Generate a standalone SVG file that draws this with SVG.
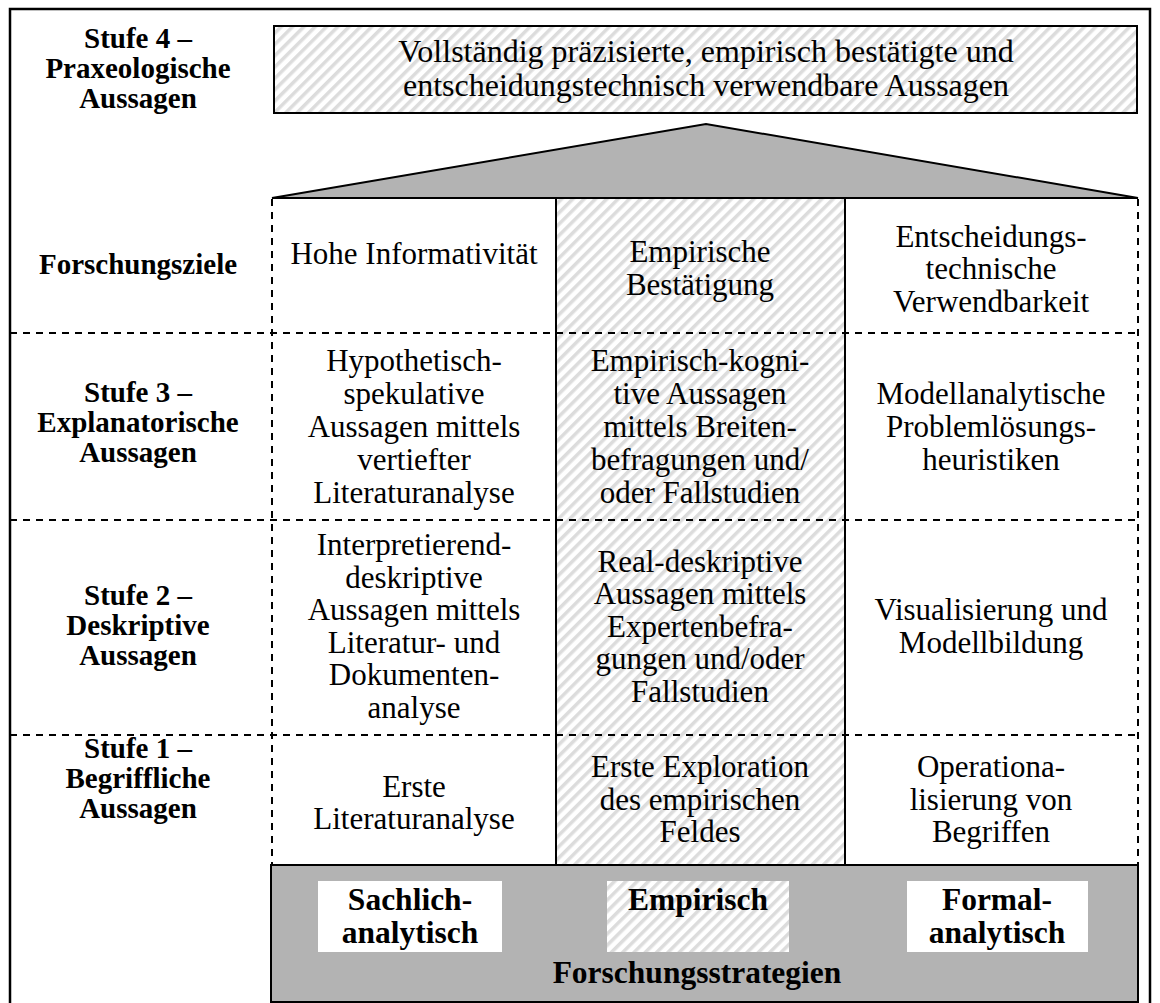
<svg xmlns="http://www.w3.org/2000/svg" width="1160" height="1003" viewBox="0 0 1160 1003">
  <defs>
    <pattern id="hatch" patternUnits="userSpaceOnUse" width="8" height="8" patternTransform="rotate(45)">
      <rect width="8" height="8" fill="#ffffff"/>
      <rect width="3.5" height="8" fill="#dcdcdc"/>
    </pattern>
    <style>
      .frame { fill: none; stroke: #000; stroke-width: 2.5; }
      .box { stroke: #000; stroke-width: 2; }
      .gray { fill: #b3b3b3; }
      .dash { stroke: #000; stroke-width: 2; stroke-dasharray: 7 6; fill: none; }
      .solid { stroke: #000; stroke-width: 2; fill: none; }
      text { font-family: "Liberation Serif", "Times New Roman", serif; fill: #000; text-anchor: middle; }
      .lbl { font-weight: bold; font-size: 29px; }
      .cell { font-size: 31px; }
      .head { font-size: 32px; }
      .strat { font-weight: bold; font-size: 31.5px; }
    </style>
  </defs>

  <rect width="1160" height="1003" fill="#ffffff"/>

  <!-- outer frame -->
  <rect class="frame" x="10" y="9" width="1140" height="1000"/>

  <!-- level 4 statement box and roof -->
  <g id="top-statement">
    <rect class="box" x="274" y="26" width="863" height="87" fill="url(#hatch)"/>
    <text class="head"><tspan x="706" y="62">Vollständig präzisierte, empirisch bestätigte und</tspan><tspan x="706" y="96">entscheidungstechnisch verwendbare Aussagen</tspan></text>
  </g>
  <g id="roof">
    <polygon class="box gray" points="272,198 706,124 1138,198"/>
  </g>

  <!-- middle column (empirical strategy) background -->
  <rect x="556" y="199" width="289" height="666" fill="url(#hatch)"/>

  <!-- grid lines -->
  <g id="grid">
    <line class="dash" x1="272" y1="199" x2="272" y2="865"/>
    <line class="dash" x1="1138" y1="199" x2="1138" y2="865"/>
    <line class="dash" x1="10" y1="333" x2="1138" y2="333"/>
    <line class="dash" x1="10" y1="520" x2="1138" y2="520"/>
    <line class="dash" x1="10" y1="735" x2="1138" y2="735"/>
    <line class="solid" x1="556" y1="199" x2="556" y2="865"/>
    <line class="solid" x1="845" y1="199" x2="845" y2="865"/>
  </g>

  <!-- row labels -->
  <g id="label-stufe4">
    <text class="lbl"><tspan x="138" y="48">Stufe 4 –</tspan><tspan x="138" y="78">Praxeologische</tspan><tspan x="138" y="108">Aussagen</tspan></text>
  </g>
  <g id="label-ziele">
    <text class="lbl" x="138" y="274">Forschungsziele</text>
  </g>
  <g id="label-stufe3">
    <text class="lbl"><tspan x="138" y="402">Stufe 3 –</tspan><tspan x="138" y="432">Explanatorische</tspan><tspan x="138" y="462">Aussagen</tspan></text>
  </g>
  <g id="label-stufe2">
    <text class="lbl"><tspan x="138" y="605">Stufe 2 –</tspan><tspan x="138" y="635">Deskriptive</tspan><tspan x="138" y="665">Aussagen</tspan></text>
  </g>
  <g id="label-stufe1">
    <text class="lbl"><tspan x="138" y="758">Stufe 1 –</tspan><tspan x="138" y="788">Begriffliche</tspan><tspan x="138" y="818">Aussagen</tspan></text>
  </g>

  <!-- research goals row -->
  <g id="ziel-informativitaet">
    <text class="cell" x="414" y="264">Hohe Informativität</text>
  </g>
  <g id="ziel-bestaetigung">
    <text class="cell"><tspan x="700" y="262">Empirische</tspan><tspan x="700" y="295">Bestätigung</tspan></text>
  </g>
  <g id="ziel-verwendbarkeit">
    <text class="cell"><tspan x="991" y="247">Entscheidungs-</tspan><tspan x="991" y="279">technische</tspan><tspan x="991" y="312">Verwendbarkeit</tspan></text>
  </g>

  <!-- level 3 row -->
  <g id="s3-sachlich">
    <text class="cell"><tspan x="414" y="371">Hypothetisch-</tspan><tspan x="414" y="404">spekulative</tspan><tspan x="414" y="437">Aussagen mittels</tspan><tspan x="414" y="470">vertiefter</tspan><tspan x="414" y="503">Literaturanalyse</tspan></text>
  </g>
  <g id="s3-empirisch">
    <text class="cell"><tspan x="700" y="371">Empirisch-kogni-</tspan><tspan x="700" y="404">tive Aussagen</tspan><tspan x="700" y="437">mittels Breiten-</tspan><tspan x="700" y="470">befragungen und/</tspan><tspan x="700" y="503">oder Fallstudien</tspan></text>
  </g>
  <g id="s3-formal">
    <text class="cell"><tspan x="991" y="404">Modellanalytische</tspan><tspan x="991" y="437">Problemlösungs-</tspan><tspan x="991" y="470">heuristiken</tspan></text>
  </g>

  <!-- level 2 row -->
  <g id="s2-sachlich">
    <text class="cell"><tspan x="414" y="555">Interpretierend-</tspan><tspan x="414" y="588">deskriptive</tspan><tspan x="414" y="620">Aussagen mittels</tspan><tspan x="414" y="653">Literatur- und</tspan><tspan x="414" y="685">Dokumenten-</tspan><tspan x="414" y="718">analyse</tspan></text>
  </g>
  <g id="s2-empirisch">
    <text class="cell"><tspan x="700" y="572">Real-deskriptive</tspan><tspan x="700" y="604">Aussagen mittels</tspan><tspan x="700" y="637">Expertenbefra-</tspan><tspan x="700" y="669">gungen und/oder</tspan><tspan x="700" y="702">Fallstudien</tspan></text>
  </g>
  <g id="s2-formal">
    <text class="cell"><tspan x="991" y="620">Visualisierung und</tspan><tspan x="991" y="653">Modellbildung</tspan></text>
  </g>

  <!-- level 1 row -->
  <g id="s1-sachlich">
    <text class="cell"><tspan x="414" y="797">Erste</tspan><tspan x="414" y="829">Literaturanalyse</tspan></text>
  </g>
  <g id="s1-empirisch">
    <text class="cell"><tspan x="700" y="777">Erste Exploration</tspan><tspan x="700" y="810">des empirischen</tspan><tspan x="700" y="842">Feldes</tspan></text>
  </g>
  <g id="s1-formal">
    <text class="cell"><tspan x="991" y="777">Operationa-</tspan><tspan x="991" y="810">lisierung von</tspan><tspan x="991" y="842">Begriffen</tspan></text>
  </g>

  <!-- research strategies foundation -->
  <g id="strategien">
    <rect class="box gray" x="271" y="865" width="867" height="137"/>
    <rect x="318" y="881" width="184" height="71" fill="#ffffff"/>
    <rect x="607" y="881" width="182" height="71" fill="url(#hatch)"/>
    <rect x="907" y="881" width="181" height="71" fill="#ffffff"/>
    <text class="strat"><tspan x="410" y="910">Sachlich-</tspan><tspan x="410" y="943">analytisch</tspan></text>
    <text class="strat" x="698" y="910">Empirisch</text>
    <text class="strat"><tspan x="997" y="910">Formal-</tspan><tspan x="997" y="943">analytisch</tspan></text>
    <text class="strat" x="697" y="983">Forschungsstrategien</text>
  </g>
</svg>
